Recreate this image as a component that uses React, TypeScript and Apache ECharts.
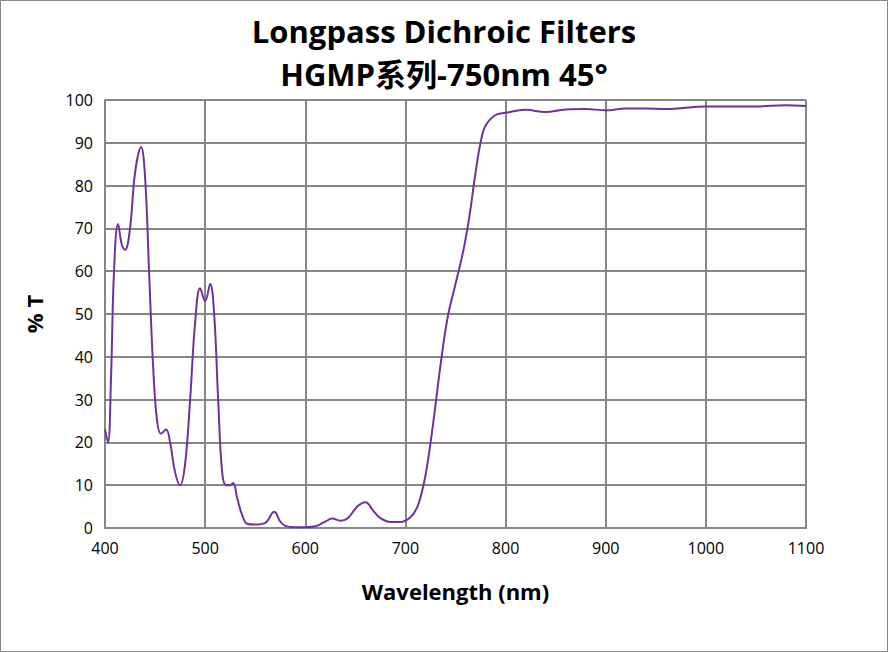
import * as echarts from "echarts";
import { useEffect, useRef } from "react";

const wavelength = [400, 403, 406, 409, 413, 417, 420, 425, 430, 436, 440, 444, 448, 452, 456, 461, 465, 470, 475, 480, 485, 490, 495, 500, 505, 509, 513, 517, 521, 525, 528, 532, 537, 542, 550, 560, 569, 575, 580, 590, 600, 610, 620, 627, 635, 642, 652, 660, 668, 675, 685, 695, 705, 712, 718, 722, 728, 735, 742, 750, 758, 764, 770, 775, 780, 790, 800, 820, 840, 860, 880, 900, 920, 940, 960, 1000, 1050, 1080, 1100];
const transmission = [23, 20, 35, 60, 71, 66, 65, 70, 83, 89, 82, 60, 38, 25, 22, 23, 20, 13, 10, 15, 30, 48, 56, 53, 57, 50, 30, 13, 10, 10, 10.5, 7, 3, 1, 0.8, 1.2, 3.8, 1.5, 0.5, 0.2, 0.2, 0.4, 1.5, 2.2, 1.7, 2.2, 5, 6, 4, 2.3, 1.4, 1.4, 2.5, 5, 10, 15, 25, 38, 49, 57, 65, 73, 83, 90, 94, 96.5, 97, 97.7, 97.2, 97.8, 97.9, 97.6, 98, 98, 97.9, 98.5, 98.5, 98.8, 98.6];

const FONT = "'Open Sans', 'Noto Sans CJK SC', sans-serif";
const GRID = "#868686";

export default function App() {
  const ref = useRef<HTMLDivElement>(null);

  useEffect(() => {
    document.body.style.margin = "0";
    const el = ref.current;
    if (!el) return;
    const chart = echarts.init(el, undefined, { renderer: "svg" });
    chart.setOption({
      animation: false,
      title: {
        text: "Longpass Dichroic Filters\nHGMP系列-750nm 45°",
        left: "center",
        top: 4,
        textStyle: { fontFamily: FONT, fontSize: 31, fontWeight: "bold", color: "#000", lineHeight: 43 },
      },
      grid: { left: 105, right: 82, top: 100, bottom: 124 },
      xAxis: {
        type: "value",
        min: 400,
        max: 1100,
        interval: 100,
        name: "Wavelength (nm)",
        nameLocation: "middle",
        nameGap: 52,
        nameTextStyle: { fontFamily: FONT, fontSize: 22, fontWeight: "bold", color: "#000" },
        axisLine: { lineStyle: { color: GRID, width: 2 } },
        axisTick: { show: false },
        axisLabel: { fontFamily: FONT, fontSize: 16, color: "#000", margin: 12, formatter: (v: number) => String(v) },
        splitLine: { lineStyle: { color: GRID, width: 2 } },
      },
      yAxis: {
        type: "value",
        min: 0,
        max: 100,
        interval: 10,
        name: "% T",
        nameLocation: "middle",
        nameGap: 60,
        nameTextStyle: { fontFamily: FONT, fontSize: 22, fontWeight: "bold", color: "#000" },
        axisLine: { show: true, lineStyle: { color: GRID, width: 2 } },
        axisTick: { show: false },
        axisLabel: { fontFamily: FONT, fontSize: 16, color: "#000", margin: 12 },
        splitLine: { lineStyle: { color: GRID, width: 2 } },
      },
      graphic: [
        {
          type: "rect",
          shape: { x: 0.5, y: 0.5, width: 887, height: 651 },
          style: { fill: "none", stroke: "#868686", lineWidth: 1 },
        },
        {
          type: "line",
          shape: { x1: 806, y1: 100, x2: 806, y2: 528 },
          style: { stroke: GRID, lineWidth: 2 },
        },
      ],
      series: [
        {
          type: "line",
          data: wavelength.map((w, i) => [w, transmission[i]]),
          smooth: 0.4,
          showSymbol: false,
          lineStyle: { color: "#7030a0", width: 2 },
        },
      ],
    });
    return () => chart.dispose();
  }, []);

  return <div ref={ref} style={{ width: 888, height: 652 }} />;
}
